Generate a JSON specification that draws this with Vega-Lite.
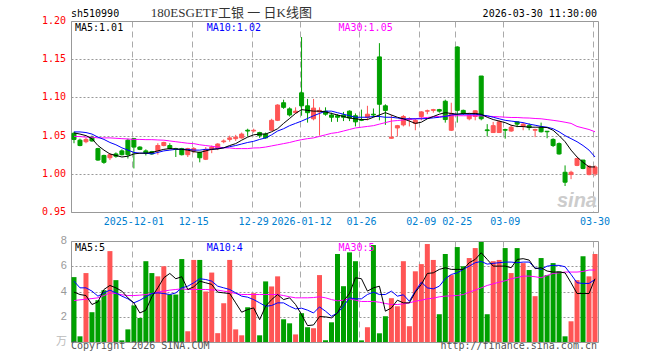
{
"$schema": "https://vega.github.io/schema/vega-lite/v6.json",
"autosize": {"type": "pad"},
"padding": {"left": 41, "top": 6, "right": 40, "bottom": 10},
"background": "#ffffff",
"config": {
  "view": {"stroke": "#999999", "strokeWidth": 1},
  "axis": {"domain": false, "ticks": false, "labelFont": "DejaVu Sans Mono", "labelFontSize": 10, "title": null, "labelOverlap": false},
  "text": {"font": "DejaVu Sans Mono", "fontSize": 10}
},
"datasets": {
"k": [
{"d":"2025-11-17","o":1.053,"h":1.055,"l":1.040,"c":1.045,"v":5.14,"m5":1.0535,"m10":1.0548,"m30":1.049,"vm5":3.95,"vm10":4.82,"vm30":3.28},
{"d":"2025-11-18","o":1.044,"h":1.046,"l":1.036,"c":1.037,"v":0.45,"m5":1.052,"m10":1.0548,"m30":1.0487,"vm5":3.76,"vm10":4.29,"vm30":3.34},
{"d":"2025-11-19","o":1.042,"h":1.047,"l":1.040,"c":1.045,"v":5.46,"m5":1.050,"m10":1.054,"m30":1.048,"vm5":3.68,"vm10":4.29,"vm30":3.39},
{"d":"2025-11-20","o":1.048,"h":1.050,"l":1.042,"c":1.043,"v":2.36,"m5":1.046,"m10":1.052,"m30":1.048,"vm5":2.97,"vm10":4.03,"vm30":3.44},
{"d":"2025-11-21","o":1.033,"h":1.034,"l":1.017,"c":1.018,"v":3.31,"m5":1.037,"m10":1.048,"m30":1.047,"vm5":3.18,"vm10":3.63,"vm30":3.50},
{"d":"2025-11-24","o":1.024,"h":1.025,"l":1.013,"c":1.015,"v":4.10,"m5":1.031,"m10":1.045,"m30":1.047,"vm5":4.16,"vm10":3.89,"vm30":3.68},
{"d":"2025-11-25","o":1.021,"h":1.027,"l":1.018,"c":1.025,"v":7.20,"m5":1.026,"m10":1.041,"m30":1.047,"vm5":4.48,"vm10":4.11,"vm30":3.89},
{"d":"2025-11-26","o":1.026,"h":1.028,"l":1.021,"c":1.023,"v":4.90,"m5":1.024,"m10":1.038,"m30":1.0465,"vm5":4.29,"vm10":3.89,"vm30":3.84},
{"d":"2025-11-27","o":1.030,"h":1.032,"l":1.024,"c":1.025,"v":0.13,"m5":1.022,"m10":1.034,"m30":1.046,"vm5":4.03,"vm10":3.63,"vm30":3.74},
{"d":"2025-11-28","o":1.044,"h":1.046,"l":1.020,"c":1.025,"v":1.00,"m5":1.023,"m10":1.031,"m30":1.0456,"vm5":3.50,"vm10":3.42,"vm30":3.68},
{"d":"2025-12-01","o":1.046,"h":1.047,"l":1.007,"c":1.035,"v":2.90,"m5":1.026,"m10":1.028,"m30":1.045,"vm5":3.10,"vm10":3.10,"vm30":3.68},
{"d":"2025-12-02","o":1.035,"h":1.036,"l":1.031,"c":1.032,"v":1.90,"m5":1.027,"m10":1.027,"m30":1.045,"vm5":2.30,"vm10":3.31,"vm30":3.71},
{"d":"2025-12-03","o":1.030,"h":1.032,"l":1.024,"c":1.027,"v":6.40,"m5":1.027,"m10":1.027,"m30":1.0447,"vm5":2.52,"vm10":3.58,"vm30":3.76},
{"d":"2025-12-04","o":1.029,"h":1.030,"l":1.025,"c":1.026,"v":5.46,"m5":1.028,"m10":1.026,"m30":1.0447,"vm5":3.58,"vm10":3.84,"vm30":3.84},
{"d":"2025-12-05","o":1.030,"h":1.040,"l":1.025,"c":1.037,"v":5.20,"m5":1.030,"m10":1.028,"m30":1.0443,"vm5":4.29,"vm10":3.89,"vm30":3.95},
{"d":"2025-12-08","o":1.037,"h":1.042,"l":1.036,"c":1.041,"v":6.00,"m5":1.032,"m10":1.030,"m30":1.044,"vm5":5.09,"vm10":3.84,"vm30":4.03},
{"d":"2025-12-09","o":1.037,"h":1.040,"l":1.032,"c":1.033,"v":3.76,"m5":1.033,"m10":1.031,"m30":1.043,"vm5":5.43,"vm10":3.76,"vm30":4.11},
{"d":"2025-12-10","o":1.033,"h":1.034,"l":1.022,"c":1.032,"v":3.76,"m5":1.0325,"m10":1.032,"m30":1.042,"vm5":5.01,"vm10":3.89,"vm30":4.16},
{"d":"2025-12-11","o":1.033,"h":1.034,"l":1.024,"c":1.025,"v":6.57,"m5":1.032,"m10":1.032,"m30":1.041,"vm5":5.17,"vm10":4.29,"vm30":4.21},
{"d":"2025-12-12","o":1.025,"h":1.034,"l":1.022,"c":1.033,"v":0.85,"m5":1.031,"m10":1.032,"m30":1.040,"vm5":4.16,"vm10":4.42,"vm30":4.16},
{"d":"2025-12-15","o":1.030,"h":1.035,"l":1.027,"c":1.033,"v":6.50,"m5":1.029,"m10":1.031,"m30":1.0395,"vm5":4.37,"vm10":4.69,"vm30":4.16},
{"d":"2025-12-16","o":1.028,"h":1.029,"l":1.015,"c":1.021,"v":6.50,"m5":1.028,"m10":1.031,"m30":1.038,"vm5":4.82,"vm10":5.01,"vm30":4.16},
{"d":"2025-12-17","o":1.019,"h":1.035,"l":1.018,"c":1.032,"v":4.00,"m5":1.030,"m10":1.032,"m30":1.037,"vm5":4.69,"vm10":4.95,"vm30":4.16},
{"d":"2025-12-18","o":1.032,"h":1.037,"l":1.027,"c":1.035,"v":5.50,"m5":1.032,"m10":1.032,"m30":1.036,"vm5":4.56,"vm10":4.82,"vm30":4.13},
{"d":"2025-12-19","o":1.033,"h":1.040,"l":1.031,"c":1.039,"v":0.70,"m5":1.0325,"m10":1.033,"m30":1.035,"vm5":3.95,"vm10":4.42,"vm30":4.11},
{"d":"2025-12-22","o":1.042,"h":1.045,"l":1.040,"c":1.043,"v":3.07,"m5":1.034,"m10":1.034,"m30":1.034,"vm5":3.89,"vm10":4.29,"vm30":4.03},
{"d":"2025-12-23","o":1.045,"h":1.050,"l":1.042,"c":1.047,"v":6.50,"m5":1.037,"m10":1.0355,"m30":1.0338,"vm5":3.84,"vm10":4.16,"vm30":3.95},
{"d":"2025-12-24","o":1.046,"h":1.051,"l":1.043,"c":1.048,"v":1.00,"m5":1.0395,"m10":1.037,"m30":1.033,"vm5":3.10,"vm10":3.89,"vm30":3.84},
{"d":"2025-12-25","o":1.047,"h":1.054,"l":1.046,"c":1.052,"v":0.53,"m5":1.044,"m10":1.039,"m30":1.033,"vm5":2.36,"vm10":3.63,"vm30":3.76},
{"d":"2025-12-26","o":1.057,"h":1.059,"l":1.049,"c":1.056,"v":2.75,"m5":1.048,"m10":1.041,"m30":1.033,"vm5":2.57,"vm10":3.55,"vm30":3.76},
{"d":"2025-12-29","o":1.056,"h":1.059,"l":1.054,"c":1.057,"v":3.87,"m5":1.051,"m10":1.0425,"m30":1.0338,"vm5":2.70,"vm10":3.36,"vm30":3.76},
{"d":"2025-12-30","o":1.054,"h":1.055,"l":1.047,"c":1.050,"v":0.53,"m5":1.052,"m10":1.045,"m30":1.034,"vm5":1.77,"vm10":3.10,"vm30":3.76},
{"d":"2025-12-31","o":1.052,"h":1.054,"l":1.046,"c":1.047,"v":4.80,"m5":1.052,"m10":1.047,"m30":1.035,"vm5":2.83,"vm10":2.83,"vm30":3.76},
{"d":"2026-01-05","o":1.057,"h":1.072,"l":1.056,"c":1.070,"v":4.40,"m5":1.055,"m10":1.051,"m30":1.0365,"vm5":3.36,"vm10":2.89,"vm30":3.76},
{"d":"2026-01-06","o":1.070,"h":1.091,"l":1.069,"c":1.090,"v":5.20,"m5":1.059,"m10":1.056,"m30":1.038,"vm5":3.76,"vm10":3.10,"vm30":3.76},
{"d":"2026-01-07","o":1.093,"h":1.097,"l":1.085,"c":1.087,"v":1.80,"m5":1.066,"m10":1.059,"m30":1.0395,"vm5":3.36,"vm10":3.10,"vm30":3.68},
{"d":"2026-01-08","o":1.085,"h":1.087,"l":1.075,"c":1.077,"v":1.48,"m5":1.0724,"m10":1.063,"m30":1.041,"vm5":3.50,"vm10":2.83,"vm30":3.58},
{"d":"2026-01-09","o":1.080,"h":1.087,"l":1.079,"c":1.082,"v":0.60,"m5":1.079,"m10":1.066,"m30":1.043,"vm5":2.97,"vm10":2.62,"vm30":3.50},
{"d":"2026-01-12","o":1.106,"h":1.179,"l":1.076,"c":1.089,"v":2.28,"m5":1.084,"m10":1.069,"m30":1.0447,"vm5":2.17,"vm10":2.68,"vm30":3.50},
{"d":"2026-01-13","o":1.089,"h":1.098,"l":1.067,"c":1.080,"v":1.17,"m5":1.083,"m10":1.0724,"m30":1.046,"vm5":1.30,"vm10":2.52,"vm30":3.50},
{"d":"2026-01-14","o":1.072,"h":1.098,"l":1.070,"c":1.086,"v":1.09,"m5":1.082,"m10":1.076,"m30":1.047,"vm5":1.35,"vm10":2.30,"vm30":3.52},
{"d":"2026-01-15","o":1.081,"h":1.087,"l":1.050,"c":1.083,"v":5.30,"m5":1.082,"m10":1.079,"m30":1.049,"vm5":2.01,"vm10":2.78,"vm30":3.58},
{"d":"2026-01-16","o":1.082,"h":1.087,"l":1.076,"c":1.078,"v":0.13,"m5":1.081,"m10":1.082,"m30":1.051,"vm5":1.99,"vm10":2.44,"vm30":3.50},
{"d":"2026-01-19","o":1.077,"h":1.080,"l":1.068,"c":1.074,"v":1.56,"m5":1.079,"m10":1.082,"m30":1.053,"vm5":1.91,"vm10":2.04,"vm30":3.36},
{"d":"2026-01-20","o":1.076,"h":1.078,"l":1.068,"c":1.074,"v":6.97,"m5":1.077,"m10":1.080,"m30":1.054,"vm5":2.30,"vm10":2.30,"vm30":3.26},
{"d":"2026-01-21","o":1.077,"h":1.081,"l":1.069,"c":1.074,"v":4.42,"m5":1.075,"m10":1.078,"m30":1.056,"vm5":3.23,"vm10":2.83,"vm30":3.31},
{"d":"2026-01-22","o":1.082,"h":1.083,"l":1.069,"c":1.073,"v":7.10,"m5":1.073,"m10":1.076,"m30":1.058,"vm5":3.84,"vm10":3.50,"vm30":3.42},
{"d":"2026-01-23","o":1.076,"h":1.079,"l":1.062,"c":1.068,"v":6.40,"m5":1.072,"m10":1.074,"m30":1.060,"vm5":5.09,"vm10":3.42,"vm30":3.31},
{"d":"2026-01-26","o":1.071,"h":1.084,"l":1.069,"c":1.070,"v":0.13,"m5":1.071,"m10":1.074,"m30":1.061,"vm5":5.01,"vm10":3.42,"vm30":3.21},
{"d":"2026-01-27","o":1.074,"h":1.089,"l":1.070,"c":1.078,"v":1.17,"m5":1.071,"m10":1.074,"m30":1.062,"vm5":4.03,"vm10":3.76,"vm30":3.21},
{"d":"2026-01-28","o":1.078,"h":1.0855,"l":1.074,"c":1.077,"v":7.68,"m5":1.074,"m10":1.075,"m30":1.063,"vm5":4.29,"vm10":3.95,"vm30":3.21},
{"d":"2026-01-29","o":1.153,"h":1.171,"l":1.070,"c":1.091,"v":0.69,"m5":1.077,"m10":1.075,"m30":1.065,"vm5":4.42,"vm10":3.76,"vm30":3.15},
{"d":"2026-01-30","o":1.089,"h":1.091,"l":1.064,"c":1.083,"v":2.04,"m5":1.080,"m10":1.074,"m30":1.067,"vm5":2.44,"vm10":3.76,"vm30":3.05},
{"d":"2026-02-02","o":1.0465,"h":1.077,"l":1.046,"c":1.048,"v":3.47,"m5":1.077,"m10":1.074,"m30":1.069,"vm5":2.70,"vm10":4.03,"vm30":2.97},
{"d":"2026-02-03","o":1.060,"h":1.064,"l":1.049,"c":1.063,"v":2.83,"m5":1.074,"m10":1.073,"m30":1.0697,"vm5":3.31,"vm10":3.63,"vm30":2.97},
{"d":"2026-02-04","o":1.064,"h":1.077,"l":1.062,"c":1.075,"v":6.40,"m5":1.072,"m10":1.072,"m30":1.0706,"vm5":3.10,"vm10":3.74,"vm30":3.02},
{"d":"2026-02-05","o":1.071,"h":1.074,"l":1.062,"c":1.072,"v":1.25,"m5":1.069,"m10":1.072,"m30":1.071,"vm5":3.10,"vm10":3.23,"vm30":3.10},
{"d":"2026-02-06","o":1.066,"h":1.072,"l":1.057,"c":1.070,"v":5.60,"m5":1.066,"m10":1.072,"m30":1.072,"vm5":3.95,"vm10":4.03,"vm30":3.23},
{"d":"2026-02-09","o":1.075,"h":1.082,"l":1.070,"c":1.081,"v":6.17,"m5":1.0675,"m10":1.072,"m30":1.073,"vm5":4.56,"vm10":4.74,"vm30":3.31},
{"d":"2026-02-10","o":1.082,"h":1.084,"l":1.078,"c":1.0825,"v":7.76,"m5":1.072,"m10":1.0724,"m30":1.0737,"vm5":5.43,"vm10":4.29,"vm30":3.42},
{"d":"2026-02-11","o":1.083,"h":1.085,"l":1.080,"c":1.084,"v":6.50,"m5":1.075,"m10":1.0732,"m30":1.0746,"vm5":5.48,"vm10":4.21,"vm30":3.47},
{"d":"2026-02-12","o":1.084,"h":1.085,"l":1.080,"c":1.082,"v":2.20,"m5":1.078,"m10":1.074,"m30":1.075,"vm5":5.75,"vm10":4.42,"vm30":3.58},
{"d":"2026-02-13","o":1.095,"h":1.097,"l":1.067,"c":1.071,"v":6.97,"m5":1.080,"m10":1.075,"m30":1.0754,"vm5":5.88,"vm10":5.01,"vm30":3.63},
{"d":"2026-02-24","o":1.057,"h":1.093,"l":1.056,"c":1.079,"v":5.30,"m5":1.079,"m10":1.077,"m30":1.0759,"vm5":5.75,"vm10":5.35,"vm30":3.66},
{"d":"2026-02-25","o":1.166,"h":1.167,"l":1.067,"c":1.083,"v":7.52,"m5":1.078,"m10":1.078,"m30":1.076,"vm5":5.75,"vm10":5.48,"vm30":3.68},
{"d":"2026-02-26","o":1.083,"h":1.084,"l":1.077,"c":1.079,"v":6.00,"m5":1.079,"m10":1.078,"m30":1.076,"vm5":5.75,"vm10":5.75,"vm30":3.76},
{"d":"2026-02-27","o":1.072,"h":1.080,"l":1.070,"c":1.077,"v":6.65,"m5":1.079,"m10":1.078,"m30":1.076,"vm5":6.28,"vm10":6.01,"vm30":3.95},
{"d":"2026-03-02","o":1.075,"h":1.083,"l":1.070,"c":1.0825,"v":7.44,"m5":1.079,"m10":1.078,"m30":1.0759,"vm5":6.54,"vm10":6.28,"vm30":4.11},
{"d":"2026-03-03","o":1.128,"h":1.128,"l":1.070,"c":1.072,"v":7.92,"m5":1.078,"m10":1.077,"m30":1.0759,"vm5":7.07,"vm10":6.38,"vm30":4.29},
{"d":"2026-03-04","o":1.0575,"h":1.065,"l":1.049,"c":1.0565,"v":2.20,"m5":1.074,"m10":1.076,"m30":1.0754,"vm5":6.54,"vm10":6.17,"vm30":4.48},
{"d":"2026-03-05","o":1.054,"h":1.068,"l":1.054,"c":1.063,"v":6.40,"m5":1.071,"m10":1.074,"m30":1.075,"vm5":6.01,"vm10":6.23,"vm30":4.61},
{"d":"2026-03-06","o":1.054,"h":1.070,"l":1.054,"c":1.068,"v":6.50,"m5":1.069,"m10":1.072,"m30":1.0746,"vm5":6.01,"vm10":6.28,"vm30":4.74},
{"d":"2026-03-09","o":1.058,"h":1.059,"l":1.046,"c":1.057,"v":7.44,"m5":1.067,"m10":1.070,"m30":1.0741,"vm5":6.01,"vm10":6.33,"vm30":4.85},
{"d":"2026-03-10","o":1.056,"h":1.064,"l":1.055,"c":1.061,"v":5.46,"m5":1.0636,"m10":1.069,"m30":1.0737,"vm5":5.88,"vm10":6.33,"vm30":5.01},
{"d":"2026-03-11","o":1.068,"h":1.068,"l":1.061,"c":1.065,"v":7.44,"m5":1.062,"m10":1.068,"m30":1.0737,"vm5":6.54,"vm10":6.28,"vm30":5.11},
{"d":"2026-03-12","o":1.062,"h":1.067,"l":1.057,"c":1.065,"v":6.25,"m5":1.0618,"m10":1.067,"m30":1.0732,"vm5":6.60,"vm10":6.33,"vm30":5.22},
{"d":"2026-03-13","o":1.063,"h":1.066,"l":1.057,"c":1.0605,"v":5.70,"m5":1.061,"m10":1.065,"m30":1.073,"vm5":6.49,"vm10":6.33,"vm30":5.22},
{"d":"2026-03-16","o":1.057,"h":1.059,"l":1.048,"c":1.058,"v":3.63,"m5":1.061,"m10":1.0636,"m30":1.0724,"vm5":5.81,"vm10":5.88,"vm30":5.17},
{"d":"2026-03-17","o":1.061,"h":1.067,"l":1.054,"c":1.055,"v":6.65,"m5":1.061,"m10":1.062,"m30":1.072,"vm5":5.88,"vm10":5.75,"vm30":5.09},
{"d":"2026-03-18","o":1.0557,"h":1.056,"l":1.0465,"c":1.055,"v":5.30,"m5":1.0605,"m10":1.061,"m30":1.071,"vm5":5.62,"vm10":6.01,"vm30":5.27},
{"d":"2026-03-19","o":1.045,"h":1.0465,"l":1.035,"c":1.037,"v":6.25,"m5":1.057,"m10":1.059,"m30":1.070,"vm5":5.54,"vm10":6.07,"vm30":5.43},
{"d":"2026-03-20","o":1.0395,"h":1.041,"l":1.025,"c":1.026,"v":5.60,"m5":1.050,"m10":1.055,"m30":1.0689,"vm5":5.54,"vm10":6.07,"vm30":5.48},
{"d":"2026-03-23","o":1.002,"h":1.011,"l":0.984,"c":0.989,"v":0.45,"m5":1.042,"m10":1.050,"m30":1.0675,"vm5":5.48,"vm10":5.96,"vm30":5.54},
{"d":"2026-03-24","o":0.999,"h":1.004,"l":0.993,"c":1.002,"v":1.64,"m5":1.031,"m10":1.046,"m30":1.066,"vm5":4.69,"vm10":5.35,"vm30":5.54},
{"d":"2026-03-25","o":1.011,"h":1.021,"l":1.010,"c":1.020,"v":4.90,"m5":1.022,"m10":1.042,"m30":1.062,"vm5":3.84,"vm10":4.69,"vm30":5.54},
{"d":"2026-03-26","o":1.018,"h":1.018,"l":1.006,"c":1.007,"v":6.80,"m5":1.015,"m10":1.037,"m30":1.060,"vm5":3.84,"vm10":4.64,"vm30":5.59},
{"d":"2026-03-27","o":0.999,"h":1.011,"l":0.998,"c":1.010,"v":5.20,"m5":1.009,"m10":1.031,"m30":1.058,"vm5":3.84,"vm10":4.64,"vm30":5.70},
{"d":"2026-03-30","o":1.000,"h":1.011,"l":0.997,"c":1.009,"v":6.97,"m5":1.009,"m10":1.022,"m30":1.055,"vm5":5.01,"vm10":4.95,"vm30":5.70}
]
},
"vconcat": [
{
  "width": 527,
  "height": 191,
  "encoding": {
    "x": {"field": "d", "type": "ordinal", "title": null,
      "scale": {"type": "band", "paddingInner": 0, "paddingOuter": 0},
      "axis": {"values": ["2025-12-01","2025-12-15","2025-12-29","2026-01-12","2026-01-26","2026-02-09","2026-02-25","2026-03-09","2026-03-30"],
        "labelExpr": "(datum.value == '2025-12-01' || datum.value == '2026-01-12') ? datum.value : slice(datum.value, 5)",
        "labelColor": "#0080d0", "labelAngle": 0, "labelPadding": 4, "labelFontSize": 10,
        "bandPosition": 0.25, "grid": true, "gridColor": "#aaaaaa", "gridDash": [6, 4], "labelOverlap": false}}
  },
  "layer": [
    {"data": {"name": "k"},
     "mark": {"type": "rule", "strokeWidth": 1},
     "encoding": {
       "y": {"field": "l", "type": "quantitative", "title": null,
         "scale": {"domain": [0.95, 1.2], "nice": false, "zero": false},
         "axis": {"values": [0.95, 1.0, 1.05, 1.1, 1.15, 1.2], "tickCount": 20, "labels": false,
           "grid": true, "gridColor": "#999999", "gridDash": [2, 2]}},
       "y2": {"field": "h"},
       "color": {"condition": {"test": "datum.c >= datum.o", "value": "#ff5555"}, "value": "#00a000"}
     }},
    {"data": {"name": "k"},
     "mark": {"type": "bar", "size": 4, "strokeWidth": 1},
     "encoding": {
       "y": {"field": "o", "type": "quantitative", "title": null, "scale": {"domain": [0.95, 1.2], "nice": false, "zero": false}},
       "y2": {"field": "c"},
       "fill": {"condition": {"test": "datum.c >= datum.o", "value": "#ff5555"}, "value": "#00a000"},
       "stroke": {"condition": {"test": "datum.c >= datum.o", "value": "#ff5555"}, "value": "#00a000"}
     }},
    {"data": {"name": "k"},
     "mark": {"type": "line", "strokeWidth": 1, "color": "#ff00ff"},
     "encoding": {"y": {"field": "m30", "type": "quantitative", "title": null, "scale": {"domain": [0.95, 1.2], "nice": false, "zero": false}}}},
    {"data": {"name": "k"},
     "mark": {"type": "line", "strokeWidth": 1, "color": "#0000ff"},
     "encoding": {"y": {"field": "m10", "type": "quantitative", "title": null, "scale": {"domain": [0.95, 1.2], "nice": false, "zero": false}}}},
    {"data": {"name": "k"},
     "mark": {"type": "line", "strokeWidth": 1, "color": "#000000"},
     "encoding": {"y": {"field": "m5", "type": "quantitative", "title": null, "scale": {"domain": [0.95, 1.2], "nice": false, "zero": false}}}},
    {"data": {"values": [
        {"t": "0.95", "d": "2025-11-17", "y": 0.95}, {"t": "1.00", "d": "2025-11-17", "y": 1.0},
        {"t": "1.05", "d": "2025-11-17", "y": 1.05}, {"t": "1.10", "d": "2025-11-17", "y": 1.1},
        {"t": "1.15", "d": "2025-11-17", "y": 1.15}, {"t": "1.20", "d": "2025-11-17", "y": 1.2}]},
     "mark": {"type": "text", "align": "right", "baseline": "middle", "dx": -8, "font": "DejaVu Sans Mono", "fontSize": 10, "color": "#ff0000"},
     "encoding": {
       "y": {"field": "y", "type": "quantitative", "title": null, "scale": {"domain": [0.95, 1.2], "nice": false, "zero": false}},
       "text": {"field": "t"}
     }},
    {"data": {"values": [
        {"t": "MA5:1.01", "d": "2025-11-17", "y": 1.2, "col": "#000000"},
        {"t": "MA10:1.02", "d": "2025-12-17", "y": 1.2, "col": "#0000ff"},
        {"t": "MA30:1.05", "d": "2026-01-20", "y": 1.2, "col": "#ff00ff"}]},
     "mark": {"type": "text", "align": "left", "baseline": "top", "dy": 2, "dx": 1, "font": "DejaVu Sans Mono", "fontSize": 10},
     "encoding": {
       "y": {"field": "y", "type": "quantitative", "title": null, "scale": {"domain": [0.95, 1.2], "nice": false, "zero": false}},
       "text": {"field": "t"},
       "color": {"field": "col", "type": "nominal", "scale": null}
     }},
    {"data": {"values": [{"t": "sh510990", "d": "2025-11-17", "y": 1.209}]},
     "mark": {"type": "text", "align": "left", "baseline": "middle", "dx": -3, "font": "DejaVu Sans Mono", "fontSize": 10, "color": "#000000"},
     "encoding": {
       "y": {"field": "y", "type": "quantitative", "title": null, "scale": {"domain": [0.95, 1.2], "nice": false, "zero": false}},
       "text": {"field": "t"}
     }},
    {"data": {"values": [{"t": "180ESGETF工银 一 日K线图", "d": "2025-12-04", "y": 1.2105}]},
     "mark": {"type": "text", "align": "left", "baseline": "middle", "dx": -1, "font": "Liberation Serif, Noto Sans CJK SC", "fontSize": 13, "color": "#333333"},
     "encoding": {
       "y": {"field": "y", "type": "quantitative", "title": null, "scale": {"domain": [0.95, 1.2], "nice": false, "zero": false}},
       "text": {"field": "t"}
     }},
    {"data": {"values": [{"t": "2026-03-30 11:30:00", "d": "2026-03-30", "y": 1.209}]},
     "mark": {"type": "text", "align": "right", "baseline": "middle", "dx": 2, "font": "DejaVu Sans Mono", "fontSize": 10, "color": "#000000"},
     "encoding": {
       "y": {"field": "y", "type": "quantitative", "title": null, "scale": {"domain": [0.95, 1.2], "nice": false, "zero": false}},
       "text": {"field": "t"}
     }},
    {"data": {"values": [{"t": "sina", "d": "2026-03-30", "y": 0.965}]},
     "mark": {"type": "text", "align": "right", "baseline": "middle", "dx": 2, "font": "Liberation Sans", "fontSize": 20, "fontStyle": "italic", "fontWeight": "bold", "color": "#cccccc"},
     "encoding": {
       "y": {"field": "y", "type": "quantitative", "title": null, "scale": {"domain": [0.95, 1.2], "nice": false, "zero": false}},
       "text": {"field": "t"}
     }}
  ]
},
{
  "width": 527,
  "height": 101,
  "encoding": {
    "x": {"field": "d", "type": "ordinal", "title": null,
      "scale": {"type": "band", "paddingInner": 0, "paddingOuter": 0},
      "axis": {"values": ["2025-12-01","2025-12-15","2025-12-29","2026-01-12","2026-01-26","2026-02-09","2026-02-25","2026-03-09","2026-03-30"],
        "labels": false, "bandPosition": 0.25, "grid": true, "gridColor": "#aaaaaa", "gridDash": [6, 4]}}
  },
  "layer": [
    {"data": {"name": "k"},
     "mark": {"type": "bar", "size": 5},
     "encoding": {
       "y": {"field": "v", "type": "quantitative", "title": null,
         "scale": {"domain": [0, 8], "nice": false},
         "axis": {"values": [0, 2, 4, 6, 8], "tickCount": 20, "labels": false,
           "grid": true, "gridColor": "#999999", "gridDash": [2, 2]}},
       "color": {"condition": {"test": "datum.c >= datum.o", "value": "#ff5555"}, "value": "#00a000"}
     }},
    {"data": {"name": "k"},
     "mark": {"type": "line", "strokeWidth": 1, "color": "#ff00ff"},
     "encoding": {"y": {"field": "vm30", "type": "quantitative", "title": null, "scale": {"domain": [0, 8], "nice": false}}}},
    {"data": {"name": "k"},
     "mark": {"type": "line", "strokeWidth": 1, "color": "#0000ff"},
     "encoding": {"y": {"field": "vm10", "type": "quantitative", "title": null, "scale": {"domain": [0, 8], "nice": false}}}},
    {"data": {"name": "k"},
     "mark": {"type": "line", "strokeWidth": 1, "color": "#000000"},
     "encoding": {"y": {"field": "vm5", "type": "quantitative", "title": null, "scale": {"domain": [0, 8], "nice": false}}}},
    {"data": {"values": [
        {"t": "万", "d": "2025-11-17", "y": 0, "col": "#bbbbbb"}, {"t": "2", "d": "2025-11-17", "y": 2, "col": "#999999"},
        {"t": "4", "d": "2025-11-17", "y": 4, "col": "#999999"}, {"t": "6", "d": "2025-11-17", "y": 6, "col": "#999999"},
        {"t": "8", "d": "2025-11-17", "y": 8, "col": "#999999"}]},
     "mark": {"type": "text", "align": "right", "baseline": "middle", "dx": -7, "font": "Liberation Sans, Noto Sans CJK SC", "fontSize": 11},
     "encoding": {
       "y": {"field": "y", "type": "quantitative", "title": null, "scale": {"domain": [0, 8], "nice": false}},
       "text": {"field": "t"},
       "color": {"field": "col", "type": "nominal", "scale": null}
     }},
    {"data": {"values": [
        {"t": "MA5:5", "d": "2025-11-17", "y": 8, "col": "#000000"},
        {"t": "MA10:4", "d": "2025-12-17", "y": 8, "col": "#0000ff"},
        {"t": "MA30:5", "d": "2026-01-20", "y": 8, "col": "#ff00ff"}]},
     "mark": {"type": "text", "align": "left", "baseline": "top", "dy": 2, "dx": 1, "font": "DejaVu Sans Mono", "fontSize": 10},
     "encoding": {
       "y": {"field": "y", "type": "quantitative", "title": null, "scale": {"domain": [0, 8], "nice": false}},
       "text": {"field": "t"},
       "color": {"field": "col", "type": "nominal", "scale": null}
     }},
    {"data": {"values": [{"t": "Copyright 2026 SINA.COM", "d": "2025-11-17", "y": -0.32}]},
     "mark": {"type": "text", "align": "left", "baseline": "middle", "dx": -3, "font": "DejaVu Sans Mono", "fontSize": 10, "color": "#555555"},
     "encoding": {
       "y": {"field": "y", "type": "quantitative", "title": null, "scale": {"domain": [0, 8], "nice": false}},
       "text": {"field": "t"}
     }},
    {"data": {"values": [{"t": "http://finance.sina.com.cn", "d": "2026-03-30", "y": -0.32}]},
     "mark": {"type": "text", "align": "right", "baseline": "middle", "dx": 2, "font": "DejaVu Sans Mono", "fontSize": 10, "color": "#555555"},
     "encoding": {
       "y": {"field": "y", "type": "quantitative", "title": null, "scale": {"domain": [0, 8], "nice": false}},
       "text": {"field": "t"}
     }}
  ]
}
],
"spacing": 29,
"bounds": "flush"
}
